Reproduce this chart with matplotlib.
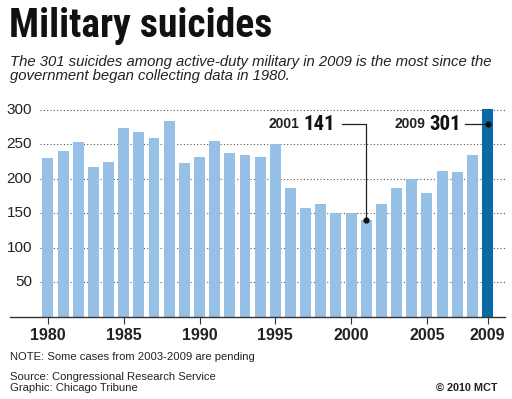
import matplotlib.pyplot as plt
from matplotlib import font_manager

years = list(range(1980, 2010))
suicides = [230, 240, 253, 217, 224, 274, 268, 259, 284, 223,
            231, 255, 237, 235, 231, 250, 187, 158, 164, 150,
            150, 141, 163, 186, 200, 180, 211, 210, 234, 301]
y_ticks = [50, 100, 150, 200, 250, 300]
x_ticks = [1980, 1985, 1990, 1995, 2000, 2005, 2009]

light = "#96c0e6"
dark = "#0a6aa8"
colors = [dark if y == 2009 else light for y in years]

# look for a condensed face for the headline, otherwise plain Liberation Sans
installed = {f.name for f in font_manager.fontManager.ttflist}
narrow = None
for name in ["Liberation Sans Narrow", "Roboto Condensed", "Open Sans Condensed",
             "Nimbus Sans Narrow", "Arial Narrow", "DejaVu Sans Condensed"]:
    if name in installed:
        narrow = name
        break
if narrow is not None and narrow != "DejaVu Sans Condensed":
    title_font, title_size, num_font, num_size = narrow, 28.5, narrow, 15
else:
    title_font, title_size, num_font, num_size = "Liberation Sans", 26, "Liberation Sans", 13

fig = plt.figure(figsize=(5.12, 3.99), dpi=100)
ax = fig.add_axes([10 / 512, 1 - 317 / 399, 495 / 512, (317 - 100) / 399])

x0, x1 = 1977.5, 2010.15
ax.set_xlim(x0, x1)
ax.set_ylim(0, 314)

# dotted grid lines, starting right of the y labels
for v in y_ticks:
    ax.hlines(v, 1979.45, x1, colors="#555555", linestyles=(0, (1, 2)), linewidth=0.8, zorder=0)
    ax.text(1978.95, v, str(v), ha="right", va="center", fontsize=11,
            family="Liberation Sans", color="#222222")

ax.bar(years, suicides, width=0.72, color=colors, zorder=2)

for s in ["top", "right", "left"]:
    ax.spines[s].set_visible(False)
ax.spines["bottom"].set_color("#333333")
ax.spines["bottom"].set_linewidth(1.0)
ax.set_yticks([])
ax.set_xticks(x_ticks)
ax.set_xticklabels([str(x) for x in x_ticks], fontsize=11.5, fontweight="bold",
                   family="Liberation Sans", color="#222222")
ax.tick_params(axis="x", length=5, width=0.8, color="#333333", pad=3)

# callouts
i01 = years.index(2001)
i09 = years.index(2009)
ly = 279
ax.plot([2001 - 1.58, 2001, 2001], [ly, ly, suicides[i01]], color="#222222", lw=0.9, zorder=3)
ax.plot([2001], [suicides[i01]], "o", color="#111111", ms=3.5, zorder=4)
ax.text(1996.6, ly, "2001", ha="right", va="center", fontsize=10, fontweight="bold",
        family="Liberation Sans", color="#222222")
ax.text(1998.95, ly, str(suicides[i01]), ha="right", va="center", fontsize=num_size,
        fontweight="bold", family=num_font, color="#111111")

ax.plot([2009 - 1.5, 2009], [ly, ly], color="#222222", lw=0.9, zorder=3)
ax.plot([2009], [ly], "o", color="#111111", ms=3.5, zorder=4)
ax.text(2004.9, ly, "2009", ha="right", va="center", fontsize=10, fontweight="bold",
        family="Liberation Sans", color="#222222")
ax.text(2007.22, ly, str(suicides[i09]), ha="right", va="center", fontsize=num_size,
        fontweight="bold", family=num_font, color="#111111")

# header and footer
fig.text(9 / 512, 1 - 26 / 399, "Military suicides", ha="left", va="center", fontsize=title_size,
         fontweight="bold", family=title_font, color="#111111")
fig.text(10 / 512, 1 - 62 / 399, "The 301 suicides among active-duty military in 2009 is the most since the",
         ha="left", va="center", fontsize=10.7, style="italic", family="Liberation Sans", color="#222222")
fig.text(10 / 512, 1 - 76 / 399, "government began collecting data in 1980.",
         ha="left", va="center", fontsize=10.7, style="italic", family="Liberation Sans", color="#222222")

fig.text(10 / 512, 1 - 357 / 399, "NOTE: Some cases from 2003-2009 are pending", ha="left", va="center",
         fontsize=8.1, family="Liberation Sans", color="#222222")
fig.text(10 / 512, 1 - 377 / 399, "Source: Congressional Research Service", ha="left", va="center",
         fontsize=8.1, family="Liberation Sans", color="#222222")
fig.text(10 / 512, 1 - 388 / 399, "Graphic: Chicago Tribune", ha="left", va="center",
         fontsize=8.1, family="Liberation Sans", color="#222222")
fig.text(497 / 512, 1 - 388 / 399, "© 2010 MCT", ha="right", va="center",
         fontsize=7.8, fontweight="bold", family="Liberation Sans", color="#222222")

fig.savefig("out.png", dpi=100)
